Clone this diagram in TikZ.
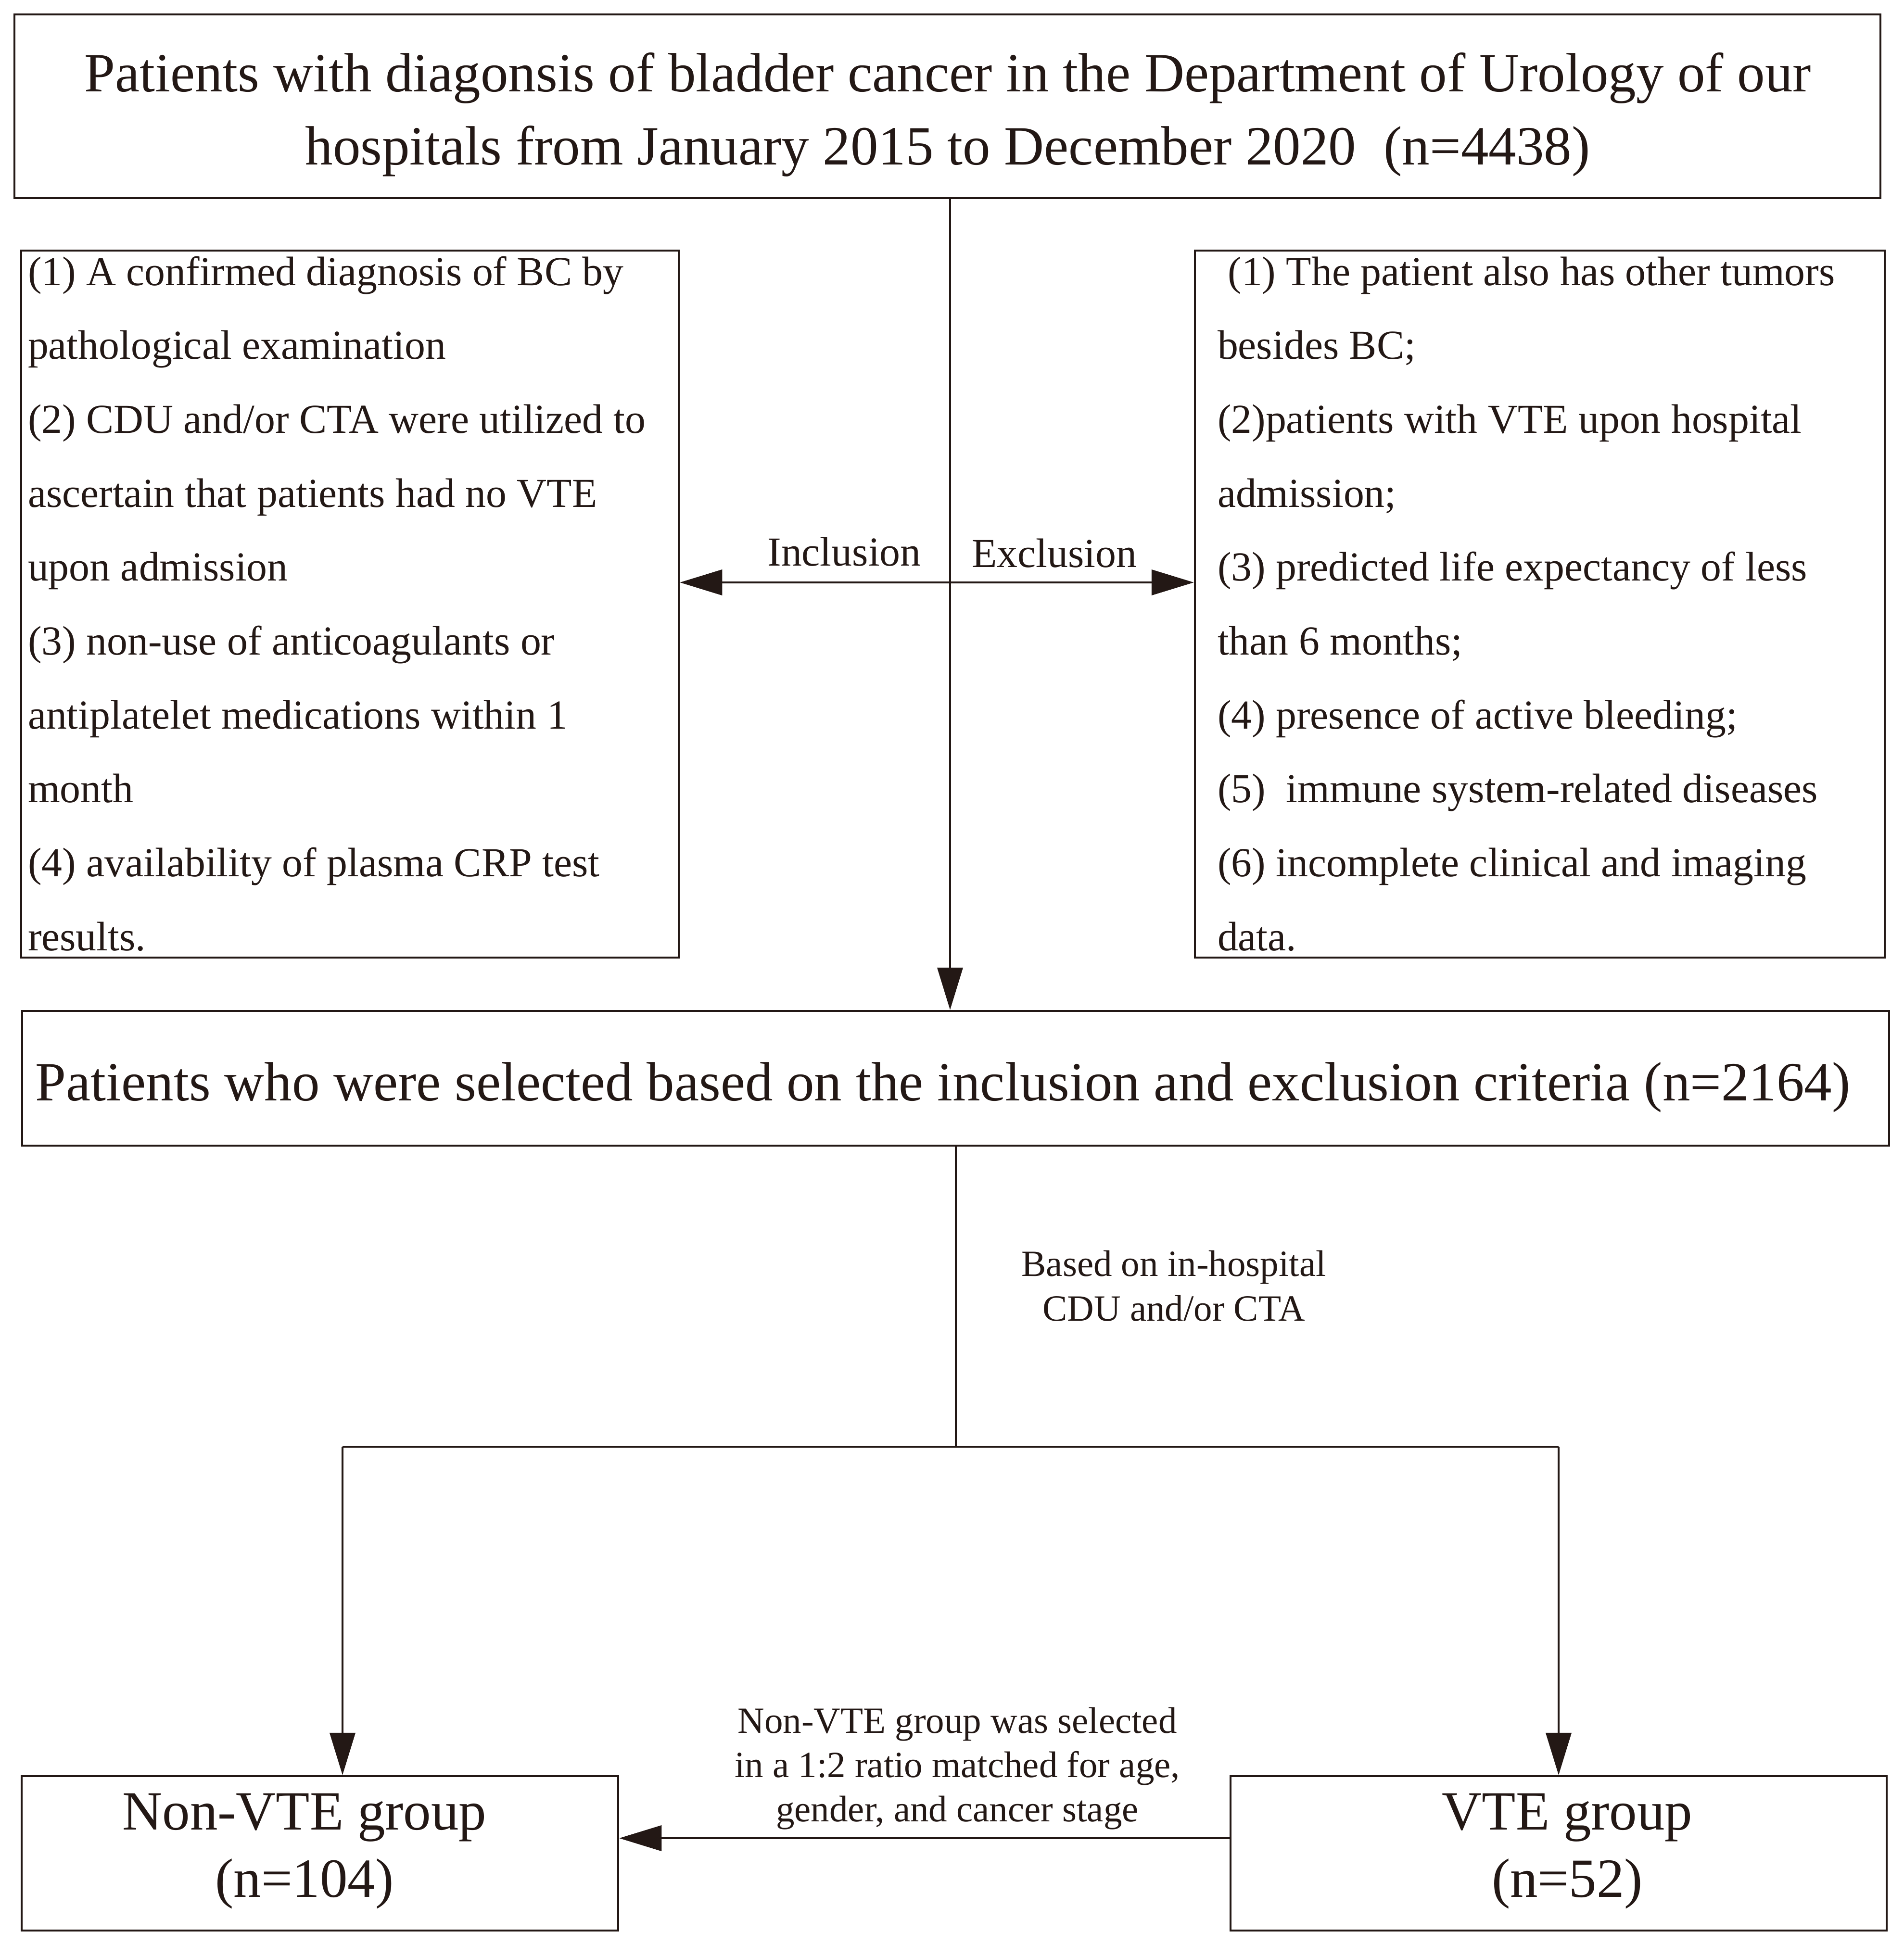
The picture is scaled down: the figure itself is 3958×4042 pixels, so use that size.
\documentclass[tikz,border=0pt]{standalone}
\usepackage{fontspec}
\setmainfont{Liberation Serif}
\usetikzlibrary{arrows.meta,fit}
\definecolor{ink}{RGB}{35,24,21}
\begin{document}
\begin{tikzpicture}[x=0.2pt,y=-0.2pt,
  box/.style={draw=ink,line width=0.9pt,inner sep=0pt},
  line/.style={draw=ink,line width=0.8pt},
  arr/.style={draw=ink,line width=0.8pt,-{Triangle[length=17.6pt,width=10.6pt]}},
  sp/.style={execute at begin node={\spaceskip=#1\relax\xspaceskip=#1\relax}},
  bigtxt/.style={text=ink,inner sep=0pt,sp=5.75pt,font=\fontsize{23}{30.4}\selectfont},
  grptxt/.style={text=ink,inner sep=0pt,sp=5.75pt,font=\fontsize{23}{28}\selectfont},
  crit/.style={text=ink,inner sep=0pt,sp=4.29pt,font=\fontsize{17.15}{30.74}\selectfont},
  smalltxt/.style={text=ink,inner sep=0pt,sp=3.85pt,font=\fontsize{15.4}{18.6}\selectfont},
  labtxt/.style={text=ink,inner sep=0pt,sp=3.85pt,font=\fontsize{15.4}{18.4}\selectfont}]
\path[use as bounding box,fill=white] (0,0) rectangle (3958,4042);

% boxes
\node[box,fit={(30,30) (3909,412)}] (top) {};
\node[box,fit={(44,521) (1411,1991)}] (inc) {};
\node[box,fit={(2484,521) (3918,1991)}] (exc) {};
\node[box,fit={(46,2102) (3927,2382)}] (mid) {};
\node[box,fit={(45,3693) (1285,4014)}] (nonvte) {};
\node[box,fit={(2558,3693) (3922,4014)}] (vte) {};

% texts
\node[bigtxt,anchor=base,text width=776pt,align=center] (toptxt) at (1970,190)
  {Patients with diagonsis of bladder cancer in the Department of Urology of our\\hospitals from January 2015 to December 2020\ \ (n=4438)};
\node[crit,anchor=base west,text width=272pt,align=left] (inctxt) at (57,593)
  {(1) A confirmed diagnosis of BC by\\
   pathological examination\\
   (2) CDU and/or CTA were utilized to\\
   ascertain that patients had no VTE\\
   upon admission\\
   (3) non-use of anticoagulants or\\
   antiplatelet medications within 1\\
   month\\
   (4) availability of plasma CRP test\\
   results.};
\node[crit,anchor=base west,text width=278pt,align=left] (exctxt) at (2530,593)
  {\hspace*{4.29pt}(1) The patient also has other tumors\\
   besides BC;\\
   (2)patients with VTE upon hospital\\
   admission;\\
   (3) predicted life expectancy of less\\
   than 6 months;\\
   (4) presence of active bleeding;\\
   (5)\ \ immune system-related diseases\\
   (6) incomplete clinical and imaging\\
   data.};
\node[crit,anchor=base] (inclab) at (1755,1176) {Inclusion};
\node[crit,anchor=base] (exclab) at (2192,1179) {Exclusion};
\node[bigtxt,anchor=base] (midtxt) at (1960,2288)
  {Patients who were selected based on the inclusion and exclusion criteria (n=2164)};
\node[smalltxt,anchor=base,text width=160pt,align=center] (basedtxt) at (2440,2653)
  {Based on in-hospital\\CDU and/or CTA};
\node[labtxt,anchor=base,text width=200pt,align=center] (matchtxt) at (1990,3603)
  {Non-VTE group was selected\\in a 1:2 ratio matched for age,\\gender, and cancer stage};
\node[grptxt,anchor=base,text width=200pt,align=center] (nonvtetxt) at (633,3804)
  {Non-VTE group\\(n=104)};
\node[grptxt,anchor=base,text width=200pt,align=center] (vtetxt) at (3258,3804)
  {VTE group\\(n=52)};

% connectors
\coordinate (j1) at (1975,1211);
\draw[arr] (top.south -| j1) -- (mid.north -| j1);
\draw[arr] (j1) -- (inc.east |- j1);
\draw[arr] (j1) -- (exc.west |- j1);

\coordinate (j2) at (1987,3008);
\coordinate (jl) at (712,3008);
\coordinate (jr) at (3240,3008);
\draw[line] (mid.south -| j2) -- (j2);
\draw[line] (jl) -- (jr);
\draw[arr] (jl) -- (nonvte.north -| jl);
\draw[arr] (jr) -- (vte.north -| jr);
\coordinate (nv) at (2000,3822);
\draw[arr] (vte.west |- nv) -- (nonvte.east |- nv);
\end{tikzpicture}
\end{document}
